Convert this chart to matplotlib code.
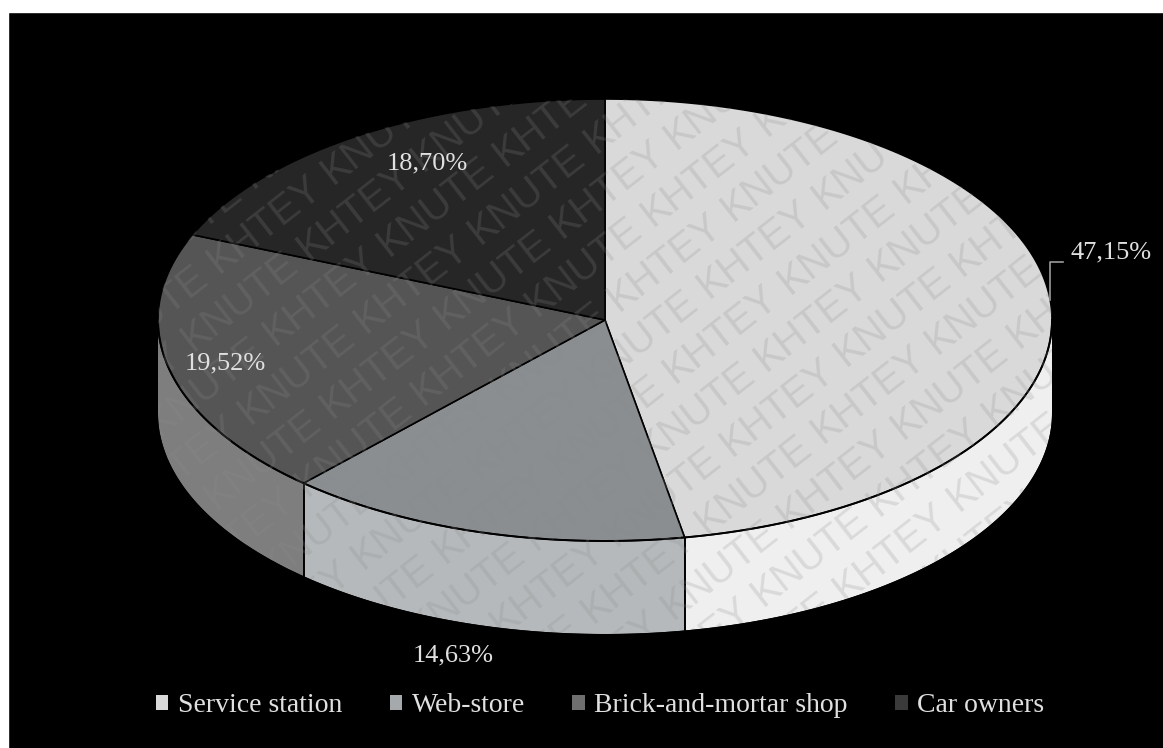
import numpy as np
import matplotlib.pyplot as plt
from matplotlib.patches import Polygon, Rectangle, Patch, PathPatch
from matplotlib.path import Path

# data
categories = ['Service station', 'Web-store', 'Brick-and-mortar shop', 'Car owners']
shares = [47.15, 14.63, 19.52, 18.70]
labels = ['47,15%', '14,63%', '19,52%', '18,70%']

top_colors = ['#d9d9d9', '#8a8e90', '#555555', '#262626']
side_colors = ['#efefef', '#b5b9bb', '#7e7e7e', '#3a3a3a']
legend_colors = ['#d9d9d9', '#a5a9ab', '#6f6f6f', '#3a3a3a']

# layout in pixels (y down)
W, H = 1163, 748
cx, cy = 605, 320
rx, ry = 447, 221
depth = 93
label_pos = [(1111, 252), (453, 655), (225, 363), (427, 163)]

fig = plt.figure(figsize=(W / 100, H / 100), dpi=100)
fig.patch.set_facecolor('white')
ax = fig.add_axes([0, 0, 1, 1])
ax.set_xlim(0, W)
ax.set_ylim(H, 0)
ax.axis('off')
ax.add_patch(Rectangle((8, 12), W - 8, H - 12, color='black', zorder=0))


def ell(t, dz=0):
    t = np.radians(t)
    return np.column_stack([cx + rx * np.cos(t), cy - ry * np.sin(t) + dz])


# slice angles, clockwise from 12 o'clock
angles = 90 - 360 * np.cumsum([0] + shares) / sum(shares)

# side walls (only the front half, angles between -180 and 0)
for i in range(len(shares)):
    a0, a1 = angles[i + 1], angles[i]
    lo, hi = max(a0, -180), min(a1, 0)
    if lo >= hi:
        continue
    t = np.linspace(lo, hi, 120)
    pts = np.vstack([ell(t), ell(t[::-1], depth)])
    ax.add_patch(Polygon(pts, closed=True, facecolor=side_colors[i],
                         edgecolor='none', zorder=2))
    for b in (a0, a1):
        if -180 < b < 0:
            p = ell(np.array([b]))[0]
            ax.plot([p[0], p[0]], [p[1], p[1] + depth], color='black', lw=1.2, zorder=3)

# front rim line
t = np.linspace(-180, 0, 300)
rim = ell(t)
ax.plot(rim[:, 0], rim[:, 1], color='black', lw=1.4, zorder=5)

# top wedges
for i in range(len(shares)):
    t = np.linspace(angles[i], angles[i + 1], 200)
    pts = np.vstack([[cx, cy], ell(t)])
    ax.add_patch(Polygon(pts, closed=True, facecolor=top_colors[i],
                         edgecolor='black', lw=1.2, joinstyle='round', zorder=4))

# outline of the whole pie body
t1 = np.linspace(0, 180, 200)
t2 = np.linspace(180, 360, 200)
inner = np.vstack([ell(t1), ell(t2, depth)])
inner = np.vstack([inner, inner[:1]])
body = Path(inner)

# watermark: single words laid along slanted rows, kept only over the pie
wm_font = dict(fontsize=29, family='Liberation Sans')
renderer = fig.canvas.get_renderer()


def text_w(s):
    tmp = ax.text(0, 0, s, **wm_font)
    w = tmp.get_window_extent(renderer).width
    tmp.remove()
    return w


wk = {'KNUTE': text_w('KNUTE'), 'KHTEY': text_w('KHTEY')}
gap = text_w('K K') - 2 * text_w('K')

rot = 38
u = np.array([np.cos(np.radians(rot)), -np.sin(np.radians(rot))])
n = np.array([np.sin(np.radians(rot)), np.cos(np.radians(rot))])
c0 = np.array([cx, cy + depth / 2])
for k in range(-16, 17):
    p0 = c0 + k * 46 * n
    s = -900 + (k % 2) * 0.5 * wk['KNUTE']
    j = k % 2
    while s < 900:
        word = ['KNUTE', 'KHTEY'][j % 2]
        w = wk[word]
        mid = p0 + (s + w / 2) * u
        samples = [p0 + (s + f * w) * u for f in (0, 0.25, 0.5, 0.75, 1)]
        if any(body.contains_point(q, radius=-20) or body.contains_point(q, radius=20)
               for q in samples):
            ax.text(mid[0], mid[1], word, rotation=rot, ha='center', va='center',
                    color='#8c8c8c', alpha=0.22, zorder=6, rotation_mode='anchor',
                    **wm_font)
        s += w + gap
        j += 1

# black mask around the pie body so the watermark only shows on the pie
outer = np.array([[-5, -5], [W + 5, -5], [W + 5, H + 5], [-5, H + 5], [-5, -5]])
area = lambda v: 0.5 * np.sum(v[:-1, 0] * v[1:, 1] - v[1:, 0] * v[:-1, 1])
hole = inner[::-1] if np.sign(area(outer)) == np.sign(area(inner)) else inner
verts = np.vstack([outer, hole])
codes = ([Path.MOVETO] + [Path.LINETO] * (len(outer) - 2) + [Path.CLOSEPOLY]
         + [Path.MOVETO] + [Path.LINETO] * (len(hole) - 2) + [Path.CLOSEPOLY])
ax.add_patch(PathPatch(Path(verts, codes), facecolor='black', edgecolor='none', zorder=6.5))
# white frame strips at top and left, as in the source image
ax.add_patch(Rectangle((-5, -5), W + 10, 17, color='white', zorder=6.6))
ax.add_patch(Rectangle((-5, -5), 13, H + 10, color='white', zorder=6.6))

# leader line for the big slice
mid = (angles[0] + angles[1]) / 2
p = ell(np.array([mid]))[0]
ax.plot([p[0], p[0], p[0] + 13], [p[1], 262, 262], color='#9a9a9a', lw=1.2, zorder=7)

for (x, y), s in zip(label_pos, labels):
    ax.text(x, y, s, ha='center', va='center', fontsize=19,
            family='Liberation Serif', color='#e0e0e0', zorder=8)

handles = [Patch(facecolor=c, edgecolor='none') for c in legend_colors]
fig.legend(handles, categories, loc='center', bbox_to_anchor=(0.516, 1 - 706 / H),
           ncol=4, frameon=False, handlelength=0.45, handleheight=0.45,
           handletextpad=0.35, columnspacing=1.7,
           prop={'family': 'Liberation Serif', 'size': 20}, labelcolor='#e0e0e0')

fig.savefig('out.png', dpi=100, facecolor=fig.get_facecolor())
